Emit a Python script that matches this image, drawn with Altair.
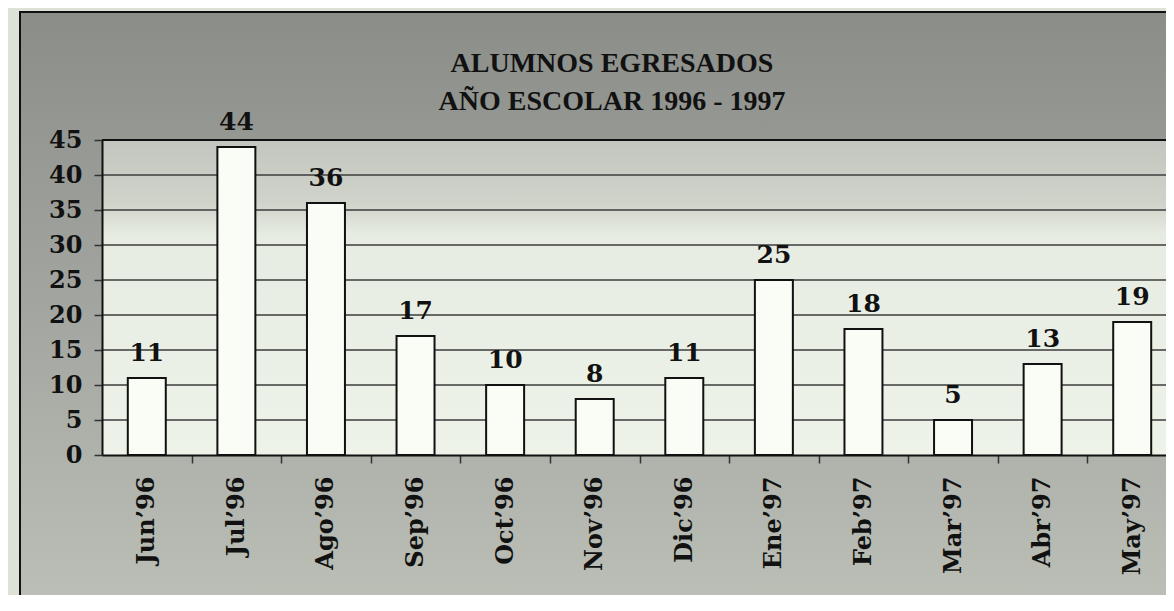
import altair as alt
import pandas as pd

months = ["Jun’96", "Jul’96", "Ago’96", "Sep’96", "Oct’96", "Nov’96",
          "Dic’96", "Ene’97", "Feb’97", "Mar’97", "Abr’97", "May’97"]
values = [11, 44, 36, 17, 10, 8, 11, 25, 18, 5, 13, 19]
y_ticks = [0, 5, 10, 15, 20, 25, 30, 35, 40, 45]
grid_vals = [5, 10, 15, 20, 25, 30, 35, 40]
title_lines = ["ALUMNOS EGRESADOS", "AÑO ESCOLAR 1996 - 1997"]

df = pd.DataFrame({"mes": months, "alumnos": values})
grid_df = pd.DataFrame({"alumnos": grid_vals})
top_df = pd.DataFrame({"alumnos": [45]})

W, H = 1064, 315
SERIF = "DejaVu Serif"

xscale = alt.Scale(domain=months, range=[0, 1075], paddingInner=0.576, paddingOuter=0.288)
yscale = alt.Scale(domain=[0, 45], nice=False)

yaxis = alt.Axis(values=y_ticks, grid=False, labelFont=SERIF, labelFontWeight="bold",
                 labelFontSize=24, labelColor="#111111", labelPadding=12,
                 tickSize=8, tickColor="#333333", tickWidth=1.5,
                 domainColor="#111111", domainWidth=2, zindex=1)
xaxis = alt.Axis(labelAngle=270, labelAlign="right", labelBaseline="middle",
                 labelFont=SERIF, labelFontWeight="bold", labelFontSize=24,
                 labelColor="#111111", labelPadding=13,
                 tickOffset=44.8, labelOffset=-44.8,
                 tickSize=8, tickColor="#333333", tickWidth=1.5,
                 domainColor="#111111", domainWidth=2, zindex=1)

one = alt.Data(values=[{"k": 1}])

panel = alt.Chart(one).mark_rect(
    color=alt.Gradient(gradient="linear", x1=0, x2=0, y1=0, y2=1,
                       stops=[alt.GradientStop(offset=0, color="#8b8d89"),
                              alt.GradientStop(offset=0.5, color="#a3a6a0"),
                              alt.GradientStop(offset=1, color="#bbbfb6")]),
    stroke="#111111", strokeWidth=2
).encode(x=alt.value(-82), x2=alt.value(1120), y=alt.value(-128), y2=alt.value(463))

plotbg = alt.Chart(one).mark_rect(
    color=alt.Gradient(gradient="linear", x1=0, x2=0, y1=0, y2=1,
                       stops=[alt.GradientStop(offset=0, color="#c2c6be"),
                              alt.GradientStop(offset=0.2, color="#cfd3ca"),
                              alt.GradientStop(offset=0.3, color="#e7ece2"),
                              alt.GradientStop(offset=1, color="#eef3e9")])
).encode(x=alt.value(0), x2=alt.value(1120), y=alt.value(0), y2=alt.value(H))

grid = alt.Chart(grid_df).mark_rule(color="#3c3c3c", strokeWidth=1.4).encode(
    y=alt.Y("alumnos:Q", scale=yscale, axis=yaxis, title=None)
)

topline = alt.Chart(top_df).mark_rule(color="#111111", strokeWidth=2).encode(
    y=alt.Y("alumnos:Q", scale=yscale, axis=yaxis, title=None)
)

bars = alt.Chart(df).mark_bar(fill="#fafcf6", stroke="#111111", strokeWidth=2).encode(
    x=alt.X("mes:N", scale=xscale, sort=months, title=None, axis=xaxis),
    y=alt.Y("alumnos:Q", scale=yscale, title=None, axis=yaxis),
)

labels = alt.Chart(df).mark_text(
    font=SERIF, fontWeight="bold", fontSize=25, color="#111111",
    baseline="alphabetic", dy=-17
).encode(
    x=alt.X("mes:N", scale=xscale, sort=months, title=None, axis=xaxis),
    y=alt.Y("alumnos:Q", scale=yscale, title=None, axis=yaxis),
    text=alt.Text("alumnos:Q"),
)

title = alt.Chart(one).mark_text(
    text=title_lines, font="Liberation Serif", fontWeight="bold", fontSize=28,
    lineHeight=38, align="center", baseline="alphabetic", color="#111111"
).encode(x=alt.value(510), y=alt.value(-68))

chart = alt.layer(panel, plotbg, grid, topline, bars, labels, title).properties(
    width=W, height=H,
    autosize=alt.AutoSizeParams(type="none"),
    padding={"left": 94, "top": 132, "right": 0, "bottom": 140},
    background="#dde2d8",
).configure_view(stroke=None)

chart.save("out.html", embed_options={"renderer": "svg", "actions": False})
